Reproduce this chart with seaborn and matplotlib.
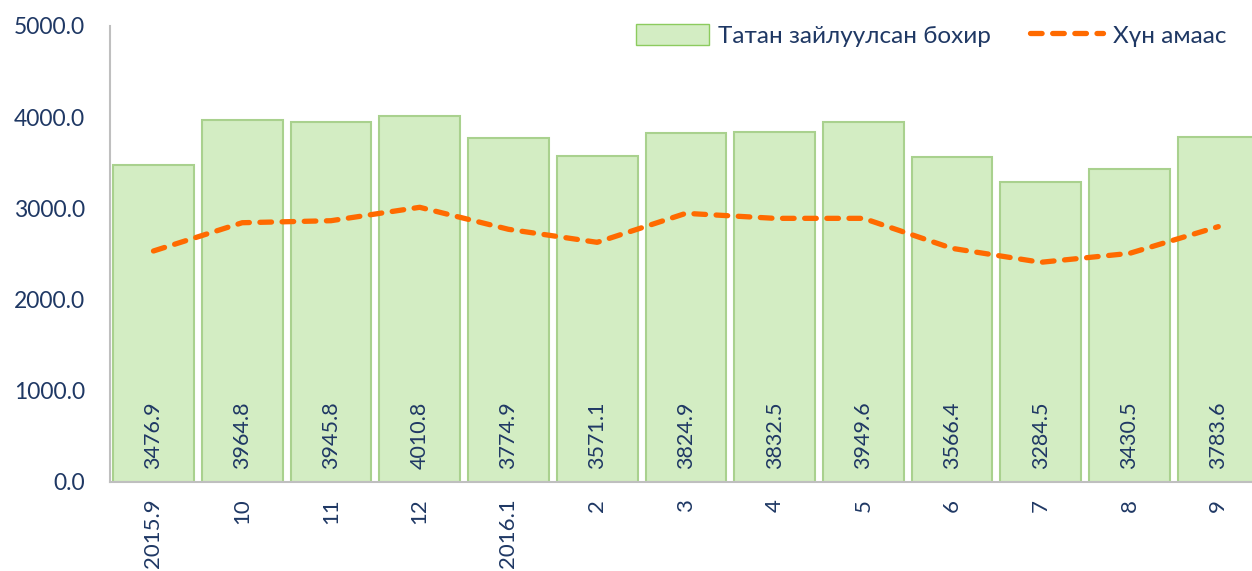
import matplotlib
matplotlib.use("Agg")
import matplotlib.pyplot as plt
from matplotlib.lines import Line2D
from matplotlib.patches import Patch
from matplotlib.ticker import FixedLocator
import numpy as np
import pandas as pd
import seaborn as sns

# Monthly data, Sep 2015 – Sep 2016
months = ["2015.9", "10", "11", "12", "2016.1", "2", "3", "4", "5", "6", "7", "8", "9"]
removed = [3476.9, 3964.8, 3945.8, 4010.8, 3774.9, 3571.1, 3824.9, 3832.5, 3949.6,
           3566.4, 3284.5, 3430.5, 3783.6]
from_population = [2533, 2843, 2865, 3012, 2771, 2628, 2946, 2891, 2891, 2562, 2409,
                   2507, 2800]
y_ticks = [0, 1000, 2000, 3000, 4000, 5000]

bar_label = "Татан зайлуулсан бохир"
line_label = "Хүн амаас"

df = pd.DataFrame({"month": months, "removed": removed, "population": from_population})

sns.set_theme(style="white")
plt.rcParams["font.family"] = ["Lato", "Open Sans", "DejaVu Sans"]

navy = "#1F3864"
bar_fill = "#D3EDC3"
bar_edge = "#A9D18E"
orange = "#FF6A00"
axis_grey = "#BFBFBF"

fig = plt.figure(figsize=(12.52, 5.71), dpi=100)
ax = fig.add_axes([110 / 1252, 1 - 482 / 571, 1 - 110 / 1252, (482 - 26) / 571])

sns.barplot(data=df, x="month", y="removed", order=months, color=bar_fill,
            edgecolor=bar_edge, linewidth=1.5, width=0.91, saturation=1, ax=ax)
sns.lineplot(x=np.arange(len(months)), y=df["population"], color=orange, linewidth=3.8,
             ax=ax, dashes=False)
line = ax.lines[-1]
line.set_dashes([2.2, 2.0])
line.set_dash_capstyle("round")
line.set_solid_capstyle("round")

for i, v in enumerate(removed):
    ax.text(i, 140, f"{v:.1f}", rotation=90, ha="center", va="bottom",
            color=navy, fontsize=15.5)

ax.set_ylim(0, 5000)
ax.set_xlim(-0.49, 12.38)
ax.set_yticks(y_ticks)
ax.set_yticklabels([f"{t:.1f}" for t in y_ticks], color=navy, fontsize=16.5)
ax.set_xticks(range(len(months)))
ax.set_xticklabels(months, rotation=90, color=navy, fontsize=16)
ax.xaxis.set_minor_locator(FixedLocator(np.arange(-0.5, len(months), 1.0)))
ax.tick_params(axis="x", which="major", length=0, pad=12)
ax.tick_params(axis="x", which="minor", length=8, width=1.5, color=axis_grey, direction="out")
ax.tick_params(axis="y", which="major", length=8, width=1.5, color=axis_grey, direction="out", pad=10)
ax.set_xlabel("")
ax.set_ylabel("")

for side in ["top", "right"]:
    ax.spines[side].set_visible(False)
for side in ["left", "bottom"]:
    ax.spines[side].set_color(axis_grey)
    ax.spines[side].set_linewidth(1.5)

handles = [
    Patch(facecolor=bar_fill, edgecolor="#8CCB5E", linewidth=1.0),
    Line2D([0], [0], color=orange, linewidth=3.8, dashes=[2.2, 2.0],
           dash_capstyle="round"),
]
leg = fig.legend(handles, [bar_label, line_label], ncol=2, frameon=False,
                 loc="upper right", bbox_to_anchor=(0.997, 0.997),
                 prop={"size": 17.5},
                 labelcolor=navy, handlelength=3.0, handleheight=1.0,
                 columnspacing=1.6, handletextpad=0.4)

fig.savefig("out.png", dpi=100)
